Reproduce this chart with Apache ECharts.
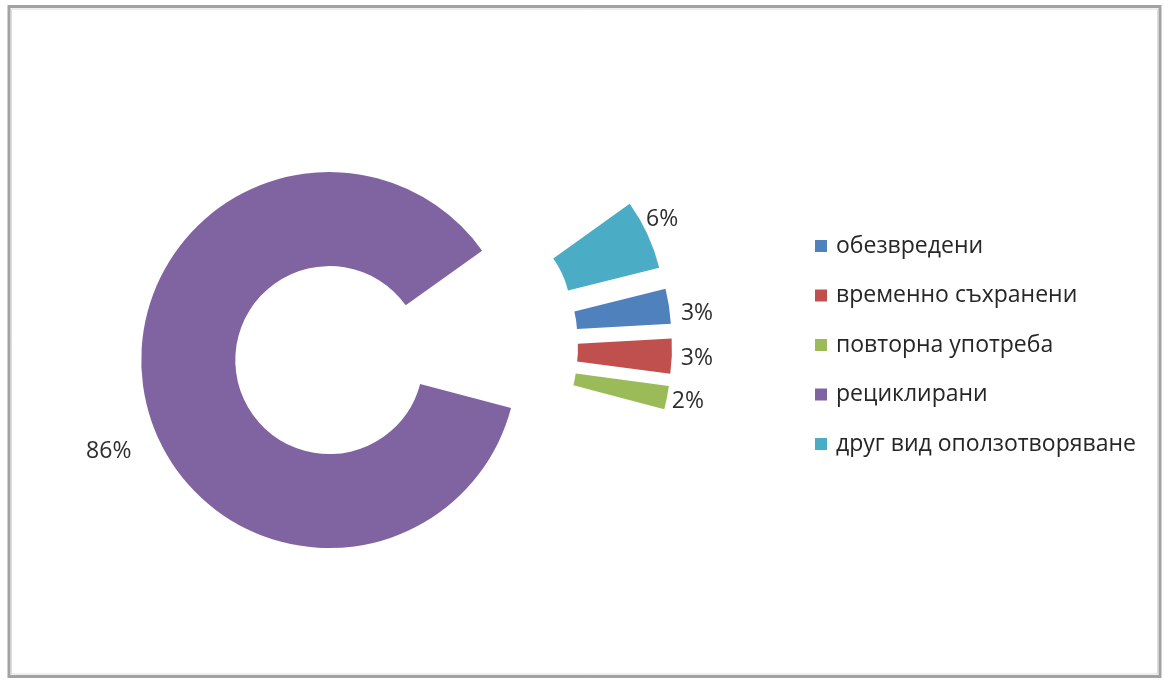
<!DOCTYPE html>
<html>
<head>
<meta charset="utf-8">
<script src="https://cdn.jsdelivr.net/npm/echarts@6/dist/echarts.min.js"></script>
<style>
  html, body { margin: 0; padding: 0; background: #ffffff; }
  #chart { width: 1164px; height: 680px; }
</style>
</head>
<body>
<div id="chart"></div>
<script>
// Data
const categories = ['обезвредени', 'временно съхранени', 'повторна употреба', 'рециклирани', 'друг вид оползотворяване'];
const values = [3, 3, 2, 86, 6];
const colors = ['#4F81BD', '#C0504D', '#9BBB59', '#8064A2', '#4BACC6'];

const chart = echarts.init(document.getElementById('chart'), null, { renderer: 'canvas' });

const pieData = categories.map((name, i) => ({
  name: name,
  value: values[i],
  selected: true,
  itemStyle: { color: colors[i] }
}));

// label nudges (style only), by data index
const labelNudge = [
  { dx: 0, dy: 8 },
  { dx: -3, dy: 2 },
  { dx: -7, dy: 3 },
  { dx: -1, dy: 57 },
  { dx: -13, dy: -13 }
];

const option = {
  backgroundColor: '#ffffff',
  animation: false,
  graphic: [
    {
      type: 'rect',
      silent: true,
      shape: { x: 9, y: 6.5, width: 1151, height: 670 },
      style: { fill: 'none', stroke: '#a2a2a2', lineWidth: 3 }
    },
    {
      type: 'rect',
      silent: true,
      shape: { x: 11.5, y: 9, width: 1146, height: 665 },
      style: { fill: 'none', stroke: '#dcdcdc', lineWidth: 1 }
    }
  ],
  legend: {
    orient: 'vertical',
    left: 815,
    top: 231,
    padding: 0,
    icon: 'rect',
    itemWidth: 12,
    itemHeight: 12,
    itemGap: 19.5,
    selectedMode: false,
    data: categories,
    textStyle: {
      fontFamily: 'Open Sans',
      fontSize: 23,
      color: '#262626',
      lineHeight: 30,
      padding: [0, 0, 0, 4]
    }
  },
  series: [
    {
      type: 'pie',
      center: [406, 346],
      radius: [94, 188],
      startAngle: 14,
      clockwise: true,
      selectedMode: 'multiple',
      selectedOffset: 78,
      avoidLabelOverlap: true,
      emphasis: { disabled: true },
      label: {
        show: true,
        position: 'outside',
        formatter: '{c}%',
        fontFamily: 'Open Sans',
        fontSize: 23,
        color: '#2e2e2e',
        distanceToLabelLine: 4
      },
      labelLine: { show: false, length: 4, length2: 4 },
      labelLayout: function (params) {
        return labelNudge[params.dataIndex] || {};
      },
      data: pieData
    }
  ]
};

chart.setOption(option);
</script>
</body>
</html>
